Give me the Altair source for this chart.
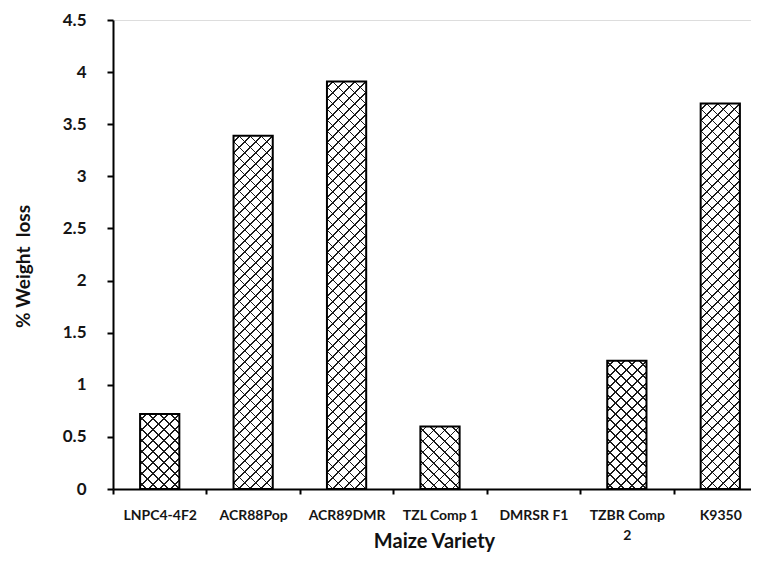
import altair as alt
import pandas as pd

# ---- data ----
varieties = ["LNPC4-4F2", "ACR88Pop", "ACR89DMR", "TZL Comp 1",
             "DMRSR F1", "TZBR Comp 2", "K9350"]
weight_loss = [0.72, 3.39, 3.91, 0.60, 0.0, 1.23, 3.70]
y_ticks = [0, 0.5, 1, 1.5, 2, 2.5, 3, 3.5, 4, 4.5]

df = pd.DataFrame({"variety": varieties, "loss": weight_loss})

# ---- geometry / style ----
PLOT_W = 654
PLOT_H = 469
Y_MAX = 4.5
BAR_FRAC = 0.42
FONT = "Lato"
bar_w = PLOT_W / len(varieties) * BAR_FRAC
px_per_unit = PLOT_H / Y_MAX
PERIOD = 11.0
LINE = 1.5
INK = "#1a1a1a"


def stripes(w, h, direction, bg, phase):
    L = w + h
    s = L / (w * w + h * h)
    if direction == "up":
        x1, y1, x2, y2 = 0, 0, s * w, s * h
    else:
        x1, y1, x2, y2 = 0, 1, s * w, 1 - s * h
    stops = [{"offset": 0, "color": bg}]
    c = phase
    while c < L:
        a = c / L
        b = min((c + LINE) / L, 1.0)
        stops += [{"offset": a, "color": bg}, {"offset": a, "color": INK},
                  {"offset": b, "color": INK}, {"offset": b, "color": bg}]
        c += PERIOD
    stops.append({"offset": 1, "color": bg})
    return {"gradient": "linear", "x1": x1, "y1": y1, "x2": x2, "y2": y2,
            "stops": stops}


x_enc = alt.X(
    "variety:N",
    sort=varieties,
    scale=alt.Scale(domain=varieties, paddingInner=0, paddingOuter=0),
    axis=alt.Axis(
        title="Maize Variety",
        labelAngle=0,
        tickBand="extent",
        labelExpr="datum.value == 'TZBR Comp 2' ? ['TZBR Comp', '2'] : datum.value",
        labelFont=FONT, labelFontSize=14, labelFontWeight="bold",
        labelColor="#151515", labelPadding=14, labelLineHeight=20,
        titleFont=FONT, titleFontSize=20, titleFontWeight="bold",
        titleColor="#111111", titleX=321, titleY=52,
        titleBaseline="middle", titleAlign="center",
        domainColor="black", domainWidth=2,
        tickColor="black", tickWidth=2, tickSize=5,
        grid=False,
    ),
)

y_enc = alt.Y(
    "loss:Q",
    scale=alt.Scale(domain=[0, Y_MAX], nice=False, zero=True),
    axis=alt.Axis(
        title="% Weight\u00a0 loss",
        values=y_ticks, format="~g",
        labelFont=FONT, labelFontSize=17, labelFontWeight="bold",
        labelColor="#151515", labelPadding=21,
        titleFont=FONT, titleFontSize=19, titleFontWeight="bold",
        titleColor="#111111", titleX=-90, titleY=246,
        titleBaseline="middle", titleAlign="center", titleAngle=-90,
        domainColor="black", domainWidth=2,
        tickColor="black", tickWidth=2, tickSize=6,
        grid=False,
    ),
)

base = alt.Chart(df).mark_bar(opacity=0).encode(x=x_enc, y=y_enc)

layers = [base]
for name, val in zip(varieties, weight_loss):
    if val <= 0:
        continue
    h = val * px_per_unit
    g1 = stripes(bar_w, h, "up", "white", PERIOD / 2)
    g2 = stripes(bar_w, h, "down", "rgba(255,255,255,0)", PERIOD / 2)
    sel = alt.Chart(df).transform_filter(alt.datum.variety == name)
    layers.append(sel.mark_bar(fill=g1, strokeWidth=0,
                               width=alt.RelativeBandSize(BAR_FRAC))
                  .encode(x=x_enc, y=y_enc))
    layers.append(sel.mark_bar(fill=g2, stroke="black", strokeWidth=2,
                               width=alt.RelativeBandSize(BAR_FRAC))
                  .encode(x=x_enc, y=y_enc))

chart = alt.layer(*layers).properties(
    width=PLOT_W, height=PLOT_H,
    autosize=alt.AutoSizeParams(type="none"),
    padding={"left": 105, "top": 12, "right": -16, "bottom": 65},
).configure_view(strokeWidth=0).configure(background="white")

chart.save("out.html", embed_options={"renderer": "svg", "actions": False})
